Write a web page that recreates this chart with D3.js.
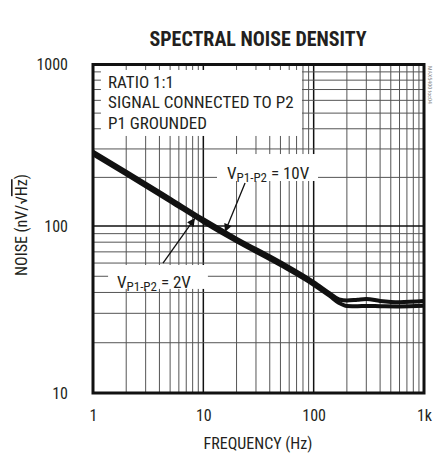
<!DOCTYPE html>
<html>
<head>
<meta charset="utf-8">
<script src="https://cdn.jsdelivr.net/npm/d3@7"></script>
<style>
  body { margin: 0; background: #fff; }
  text { font-family: "Liberation Sans Narrow", "Arial Narrow", "Roboto Condensed", sans-serif; fill: #231f20; }
</style>
</head>
<body>
<div class="container"></div>
<script>
// values
let freqs = [1, 2, 5, 10, 20, 50, 100, 140, 170, 200, 250, 300, 400, 600, 1000];
let noise10V = [288, 217, 147.6, 110, 84, 60.6, 46.1, 39.5, 36.3, 35.8, 36.2, 36.5, 35.6, 35, 35.5];
let noise2V = [278, 209, 142.4, 106, 81, 58.4, 44.5, 38.1, 34.6, 33.2, 33.1, 33.2, 33.1, 33, 33.3];

let xTicks = [1, 10, 100, 1000];
let xTickLabels = ["1", "10", "100", "1k"];
let yTicks = [10, 100, 1000];
let yTickLabels = ["10", "100", "1000"];

let noteLines = ["RATIO 1:1", "SIGNAL CONNECTED TO P2", "P1 GROUNDED"];

let width = 434,
    height = 455;

let svg = d3.select(".container")
    .append("svg")
    .attr("width", width)
    .attr("height", height);

let x = d3.scaleLog()
    .domain([1, 1000])
    .range([93, 424]);

// the scan is not quite even per decade
let y = d3.scaleLog()
    .domain([10, 100, 1000])
    .range([393, 226, 64.5]);

// grid
let gridX = [], gridY = [];
[1, 10, 100].forEach(d => {
    for (let i = 1; i < 10; i++) gridX.push(d * i);
});
gridX.push(1000);
[10, 100].forEach(d => {
    for (let i = 1; i < 10; i++) gridY.push(d * i);
});
gridY.push(1000);

let grid = svg.append("g");
grid.selectAll(".vline")
    .data(gridX)
    .enter()
    .append("line")
    .attr("x1", d => x(d))
    .attr("x2", d => x(d))
    .attr("y1", y(1000))
    .attr("y2", y(10))
    .attr("stroke", d => xTicks.includes(d) ? "#111" : "#555")
    .attr("stroke-width", d => xTicks.includes(d) ? 1.5 : 1);

grid.selectAll(".hline")
    .data(gridY)
    .enter()
    .append("line")
    .attr("x1", x(1))
    .attr("x2", x(1000))
    .attr("y1", d => y(d))
    .attr("y2", d => y(d))
    .attr("stroke", d => yTicks.includes(d) ? "#111" : "#555")
    .attr("stroke-width", d => yTicks.includes(d) ? 1.5 : 1);

// white label boxes sit on the grid
let boxes = [
    { x0: 1.18, x1: 78.4, y0: 925, y1: 361 },
    { x0: 13.3, x1: 109.5, y0: 279, y1: 190 },
    { x0: 1.37, x1: 11.0, y0: 58.4, y1: 42.0 }
];
svg.append("g")
    .selectAll("rect")
    .data(boxes)
    .enter()
    .append("rect")
    .attr("x", d => x(d.x0))
    .attr("y", d => y(d.y0))
    .attr("width", d => x(d.x1) - x(d.x0))
    .attr("height", d => y(d.y1) - y(d.y0))
    .style("fill", "#fff");

// curves
let line = d3.line()
    .x((d, i) => x(freqs[i]))
    .y(d => y(d))
    .curve(d3.curveMonotoneX);

[noise2V, noise10V].forEach(s => {
    svg.append("path")
        .attr("d", line(s))
        .style("fill", "none")
        .attr("stroke", "#111")
        .attr("stroke-width", 4)
        .attr("stroke-linejoin", "round");
});

// frame
svg.append("rect")
    .attr("x", x(1))
    .attr("y", y(1000))
    .attr("width", x(1000) - x(1))
    .attr("height", y(10) - y(1000))
    .style("fill", "none")
    .attr("stroke", "#111")
    .attr("stroke-width", 3);

// axes
let xAxis = svg.append("g")
    .attr("transform", "translate(0," + y(10) + ")")
    .call(d3.axisBottom(x)
        .tickValues(xTicks)
        .tickSize(0)
        .tickPadding(17)
        .tickFormat((d, i) => xTickLabels[i]));

let yAxis = svg.append("g")
    .attr("transform", "translate(" + x(1) + ",0)")
    .call(d3.axisLeft(y)
        .tickValues(yTicks)
        .tickSize(0)
        .tickPadding(25)
        .tickFormat((d, i) => yTickLabels[i]));

[xAxis, yAxis].forEach(a => {
    a.attr("font-family", null);
    a.select(".domain").remove();
    a.selectAll("text")
        .style("font-size", "16px")
        .style("fill", "#231f20");
});

// titles
svg.append("text")
    .attr("x", 258)
    .attr("y", 46)
    .attr("text-anchor", "middle")
    .style("font-weight", "bold")
    .style("font-size", "20px")
    .text("SPECTRAL NOISE DENSITY");

svg.append("text")
    .attr("x", 258)
    .attr("y", 449)
    .attr("text-anchor", "middle")
    .style("font-size", "16px")
    .text("FREQUENCY (Hz)");

let yTitle = svg.append("text")
    .attr("transform", "translate(27,225) rotate(-90)")
    .attr("text-anchor", "middle")
    .style("font-size", "16px");
yTitle.append("tspan").text("NOISE (nV/√");
yTitle.append("tspan").style("text-decoration", "overline").text("Hz");
yTitle.append("tspan").text(")");

// note block
svg.append("g")
    .selectAll("text")
    .data(noteLines)
    .enter()
    .append("text")
    .attr("x", x(1.37))
    .attr("y", (d, i) => y(925) + 18 + i * 20.5)
    .style("font-size", "17px")
    .text(d => d);

// V labels
let vLabels = [
    { f: 16.4, v: 213, volts: "10V" },
    { f: 1.65, v: 46.2, volts: "2V" }
];
vLabels.forEach(d => {
    let t = svg.append("text")
        .attr("x", x(d.f))
        .attr("y", y(d.v) + 6)
        .style("font-size", "17px");
    t.append("tspan").text("V");
    t.append("tspan").attr("dy", 3).style("font-size", "13px").text("P1-P2");
    t.append("tspan").attr("dy", -3).text(" = " + d.volts);
});

// arrows
svg.append("defs")
    .append("marker")
    .attr("id", "head")
    .attr("viewBox", "0 0 10 10")
    .attr("refX", 10)
    .attr("refY", 5)
    .attr("markerUnits", "userSpaceOnUse")
    .attr("markerWidth", 12)
    .attr("markerHeight", 8)
    .attr("orient", "auto")
    .append("path")
    .attr("d", "M0,0L10,5L0,10Z")
    .style("fill", "#111");

let arrows = [
    { f0: 23.9, v0: 184.6, f1: 15.7, v1: 92.1 },
    { f0: 4.31, v0: 60.0, f1: 8.4, v1: 112 }
];
svg.append("g")
    .selectAll("line")
    .data(arrows)
    .enter()
    .append("line")
    .attr("x1", d => x(d.f0))
    .attr("y1", d => y(d.v0))
    .attr("x2", d => x(d.f1))
    .attr("y2", d => y(d.v1))
    .attr("stroke", "#111")
    .attr("stroke-width", 1.3)
    .attr("marker-end", "url(#head)");

// figure tag
svg.append("text")
    .attr("transform", "translate(428,66) rotate(90)")
    .style("font-size", "6px")
    .style("fill", "#888")
    .text("MAX5400 toc04");
</script>
</body>
</html>
